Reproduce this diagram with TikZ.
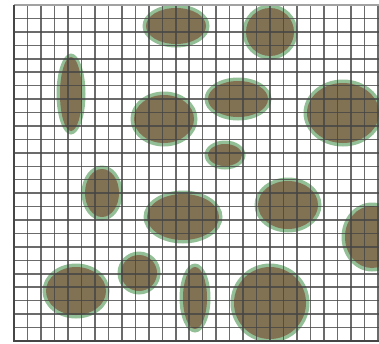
\documentclass[tikz,border=0pt]{standalone}
\definecolor{halo}{RGB}{112,170,115}
\definecolor{blobfill}{RGB}{128,114,82}
\definecolor{gridc}{RGB}{70,70,70}
\tikzset{
  halofill/.style={fill=halo,opacity=0.75},
  innerfill/.style={fill=blobfill},
  gridline/.style={draw=gridc,line width=1.5pt},
  border/.style={draw=gridc,line width=1.8pt}
}
\newcommand{\myblob}[4]{%
  \fill[halofill] (#1,#2) ellipse [x radius=#3+3.5, y radius=#4+3.5];
  \fill[innerfill] (#1,#2) ellipse [x radius=#3, y radius=#4];
}
\begin{document}
\begin{tikzpicture}[x=1pt,y=-1pt]
\useasboundingbox (0,0) rectangle (379,343);
\fill[white] (0,0) rectangle (379,343);
\begin{scope}
\clip (14,5) rectangle (379,341);
\myblob{176}{26}{30}{18}
\myblob{270}{32}{24}{24}
\myblob{71}{94}{11}{37}
\myblob{164}{119}{30}{24}
\myblob{238}{99}{30}{18}
\myblob{343}{113}{36}{30}
\myblob{225}{155}{17}{11}
\myblob{102}{193}{17}{24}
\myblob{183}{217}{36}{23}
\myblob{288}{205}{30}{24}
\myblob{372}{237}{27}{31}
\myblob{76}{291}{30}{24}
\myblob{139}{273}{18}{18}
\myblob{195}{298}{12}{31}
\myblob{270}{303}{36}{36}
\foreach \i in {1,...,27} {
  \draw[gridline,opacity=0.8] ({14+13.48*\i},5) -- ({14+13.48*\i},341);
}
\foreach \j in {1,...,24} {
  \draw[gridline,opacity=0.8] (14,{5+13.44*\j}) -- (379,{5+13.44*\j});
}
\end{scope}
\draw[gridline,draw=gridc!50] (14,5) -- (379,5);
\draw[border] (14,5) -- (14,341) -- (379,341);
\end{tikzpicture}
\end{document}
